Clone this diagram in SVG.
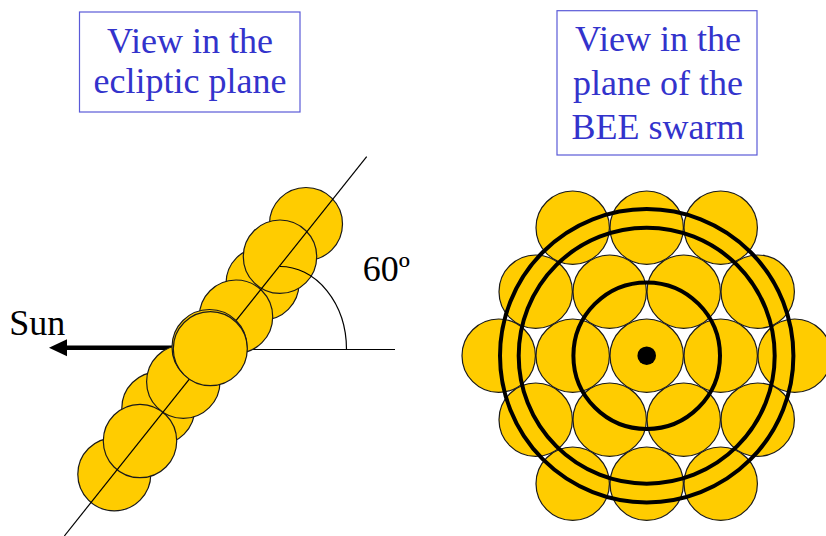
<svg xmlns="http://www.w3.org/2000/svg" width="826" height="536" viewBox="0 0 826 536">
<style>
.box{fill:#fff;stroke:#5a5ad8;stroke-width:1.2}
.title{font-family:"Liberation Serif","Times New Roman",serif;font-size:36px;fill:#3333cc;text-anchor:middle}
.lbl{font-family:"Liberation Serif","Times New Roman",serif;font-size:36px;fill:#000}
.bee{fill:#ffcc00;stroke:#1a1a1a;stroke-width:1.2}
.thin{fill:none;stroke:#000;stroke-width:1.2}
.ring{fill:none;stroke:#000;stroke-width:4}
</style>
<defs>
<marker id="ah" markerUnits="userSpaceOnUse" markerWidth="20" markerHeight="20" refX="0" refY="8.5" orient="auto" viewBox="0 0 20 17">
<path d="M0,0 L18,8.5 L0,17 Z" fill="#000"/>
</marker>
</defs>

<g id="title-left">
<rect class="box" x="79.5" y="12" width="220.5" height="100"/>
<text class="title" x="190" y="52.5">View in the</text>
<text class="title" x="190" y="92.5">ecliptic plane</text>
</g>
<g id="title-right">
<rect class="box" x="557" y="10.7" width="200" height="144.3"/>
<text class="title" x="658" y="51">View in the</text>
<text class="title" x="658" y="95">plane of the</text>
<text class="title" x="658" y="138.5">BEE swarm</text>
</g>

<g id="connectors">
<line class="thin" x1="211" y1="349.5" x2="395" y2="349.5"/>
<line x1="173" y1="347.7" x2="67" y2="347.7" stroke="#000" stroke-width="4.5" marker-end="url(#ah)"/>
</g>

<g id="swarm-edge-on">
<circle class="bee" cx="306" cy="224" r="36.5"/>
<circle class="bee" cx="262.5" cy="283.5" r="36.5"/>
<circle class="bee" cx="158.3" cy="408.3" r="36.5"/>
<circle class="bee" cx="114.3" cy="474.3" r="36.5"/>
<circle class="bee" cx="280" cy="256.7" r="36.7"/>
<circle class="bee" cx="236" cy="316.7" r="36.7"/>
<circle class="bee" cx="140" cy="441" r="36.7"/>
<circle class="bee" cx="183.3" cy="381.7" r="36.7"/>
<line class="thin" x1="64.3" y1="536" x2="366.7" y2="156.7"/>
<circle class="bee" cx="209.5" cy="347" r="37.5"/>
<circle class="bee" cx="210.3" cy="348.7" r="37"/>
<path class="thin" d="M280,266.5 A66.5 83 0 0 1 346.5 349.5"/>
</g>

<g id="label-sun"><text class="lbl" x="9.3" y="335">Sun</text></g>
<g id="label-angle"><text class="lbl" x="362.7" y="280.7">60º</text></g>

<g id="swarm-face-on" transform="translate(646.7,355.7)">
<circle class="bee" cx="-74" cy="-128" r="36.7"/>
<circle class="bee" cx="0" cy="-128" r="36.7"/>
<circle class="bee" cx="74" cy="-128" r="36.7"/>
<circle class="bee" cx="-111" cy="-64" r="36.7"/>
<circle class="bee" cx="111" cy="-64" r="36.7"/>
<circle class="bee" cx="-148" cy="0" r="36.7"/>
<circle class="bee" cx="148" cy="0" r="36.7"/>
<circle class="bee" cx="-111" cy="64" r="36.7"/>
<circle class="bee" cx="111" cy="64" r="36.7"/>
<circle class="bee" cx="-74" cy="128" r="36.7"/>
<circle class="bee" cx="0" cy="128" r="36.7"/>
<circle class="bee" cx="74" cy="128" r="36.7"/>
<circle class="bee" cx="-37" cy="-64" r="36.7"/>
<circle class="bee" cx="37" cy="-64" r="36.7"/>
<circle class="bee" cx="-74" cy="0" r="36.7"/>
<circle class="bee" cx="74" cy="0" r="36.7"/>
<circle class="bee" cx="-37" cy="64" r="36.7"/>
<circle class="bee" cx="37" cy="64" r="36.7"/>
<circle class="bee" cx="0" cy="0" r="36.7"/>
<circle class="ring" cx="0" cy="0" r="73.3"/>
<circle class="ring" cx="0" cy="0" r="128"/>
<circle class="ring" cx="0" cy="0" r="146.7"/>
<circle cx="0" cy="0" r="9.3" fill="#000"/>
</g>
</svg>
